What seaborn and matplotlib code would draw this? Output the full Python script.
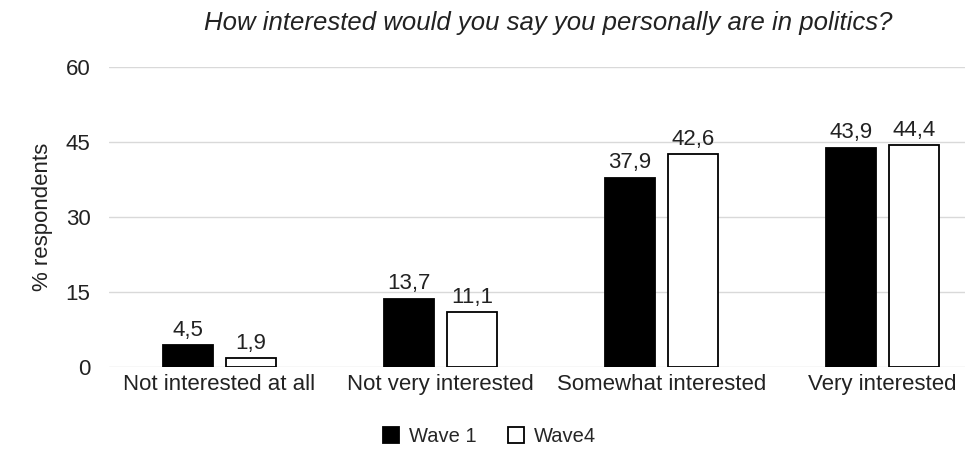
import matplotlib
matplotlib.use("Agg")
import matplotlib.pyplot as plt
import seaborn as sns
import pandas as pd
from matplotlib.patches import Patch

categories = ["Not interested at all", "Not very interested", "Somewhat interested", "Very interested"]
waves = ["Wave 1", "Wave4"]
wave1 = [4.5, 13.7, 37.9, 43.9]
wave4 = [1.9, 11.1, 42.6, 44.4]
yticks = [0, 15, 30, 45, 60]

df = pd.DataFrame({
    "category": categories * 2,
    "wave": [waves[0]] * 4 + [waves[1]] * 4,
    "value": wave1 + wave4,
})

sns.set_theme(style="white")
plt.rcParams["font.family"] = ["Liberation Sans", "DejaVu Sans"]

fig = plt.figure(figsize=(9.79, 4.5), dpi=100)
ax = fig.add_axes([0.111, 0.184, 0.875, 0.667])

palette = {waves[0]: "#000000", waves[1]: "#ffffff"}
sns.barplot(data=df, x="category", y="value", hue="wave", order=categories,
            hue_order=waves, palette=palette, width=0.572, gap=0.21,
            edgecolor="#000000", linewidth=1.3, ax=ax, legend=False)

for container in ax.containers:
    ax.bar_label(container, labels=[f"{v:.1f}".replace(".", ",") for v in container.datavalues],
                 padding=3, fontsize=16, color="#222222")

ax.set_ylim(0, 60)
ax.set_xlim(-0.5, 3.376)
ax.set_yticks(yticks)
ax.yaxis.grid(True, color="#d9d9d9", linewidth=1)
ax.set_axisbelow(True)
for s in ax.spines.values():
    s.set_visible(False)
ax.tick_params(axis="both", length=0, labelsize=16, colors="#222222")
ax.tick_params(axis="y", pad=13)
ax.tick_params(axis="x", pad=5)
ax.set_xlabel("")
ax.set_ylabel("% respondents", fontsize=16, color="#222222", labelpad=9)

fig.suptitle("How interested would you say you personally are in politics?",
             x=0.56, y=0.975, fontsize=18.5, style="italic", color="#222222")

handles = [Patch(facecolor="#000000", edgecolor="#000000", linewidth=1.3, label=waves[0]),
           Patch(facecolor="#ffffff", edgecolor="#000000", linewidth=1.3, label=waves[1])]
fig.legend(handles=handles, loc="center", bbox_to_anchor=(0.5, 0.03), ncol=2,
           frameon=False, fontsize=14.5, handlelength=0.8, handleheight=0.8,
           handletextpad=0.45, columnspacing=1.6)

fig.savefig("out.png", dpi=100)
